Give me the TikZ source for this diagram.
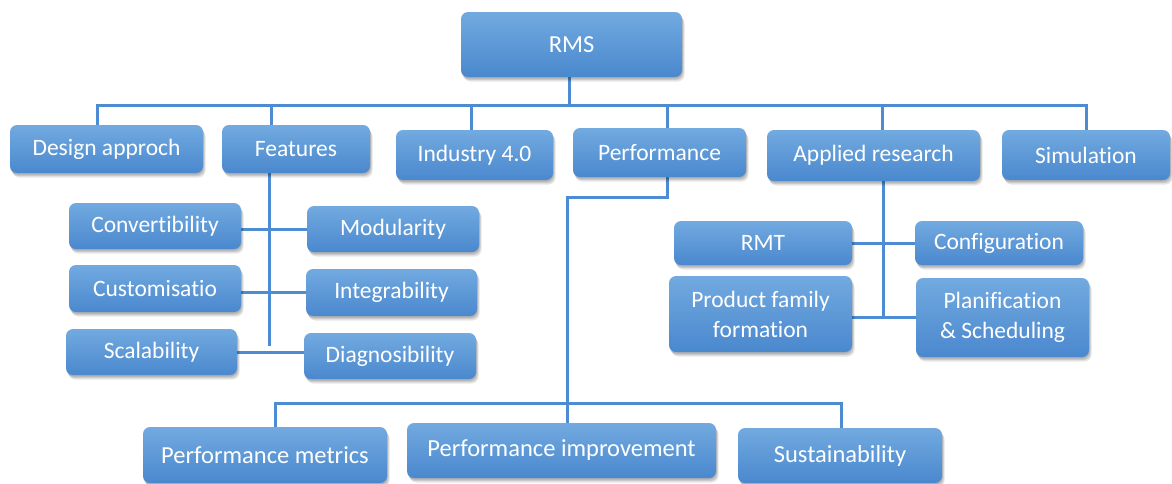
\documentclass[tikz,border=0pt]{standalone}
\usepackage{fontspec}
\setmainfont[Ligatures={NoCommon}]{Carlito}
\usetikzlibrary{shadows,calc}
\definecolor{boxtop}{HTML}{72AAE0}
\definecolor{boxbot}{HTML}{4A88CE}
\definecolor{linec}{HTML}{4D8CD2}
\pgfdeclarelayer{bg}
\pgfdeclarelayer{lines}
\pgfsetlayers{bg,lines,main}
\begin{document}
\begin{tikzpicture}[x=1pt,y=1pt,
  box/.style={rounded corners=7pt, top color=boxtop, bottom color=boxbot, draw=none,
    text=white, font=\fontsize{23.5}{30}\selectfont, align=center, inner sep=0pt,
    drop shadow={fill=black, opacity=0.12, shadow xshift=0.5pt, shadow yshift=-1.5pt},
    drop shadow={fill=black, opacity=0.12, shadow xshift=1.5pt, shadow yshift=-3pt},
    drop shadow={fill=black, opacity=0.10, shadow xshift=2.5pt, shadow yshift=-4.5pt}},
  bigbox/.style={box, font=\fontsize{24.5}{30}\selectfont},
  conn/.style={draw=linec, line width=3pt}]
\useasboundingbox (0,0) rectangle (1172,-483);
\begin{pgfonlayer}{bg}
\fill[white] (0,0) rectangle (1172,-483);
\end{pgfonlayer}
% top
\node[box, minimum width=221pt, minimum height=65pt, font=\fontsize{24.5}{30}\selectfont] (rms) at (571.5,-44.5) {RMS};
% level 1
\node[box, minimum width=193pt, minimum height=48pt] (da) at (106.5,-149) {Design approch};
\node[box, minimum width=148pt, minimum height=48pt] (feat) at (296,-149) {Features};
\node[box, minimum width=157pt, minimum height=50pt] (ind) at (474.5,-155) {Industry 4.0};
\node[box, minimum width=173pt, minimum height=49pt] (perf) at (659.5,-152.5) {Performance};
\node[box, minimum width=213pt, minimum height=51pt] (app) at (873.5,-155.5) {Applied research};
\node[box, minimum width=168pt, minimum height=50pt] (sim) at (1086,-155) {Simulation};
% features
\node[box, minimum width=172pt, minimum height=46pt] (conv) at (155,-226) {Convertibility};
\node[box, minimum width=172pt, minimum height=46pt] (mod) at (393,-229) {Modularity};
\node[box, minimum width=172pt, minimum height=47pt] (cust) at (155,-288.5) {Customisatio};
\node[box, minimum width=171pt, minimum height=47pt] (integ) at (391.5,-292.5) {Integrability};
\node[box, minimum width=171pt, minimum height=46pt] (scal) at (151.5,-352) {Scalability};
\node[box, minimum width=172pt, minimum height=46pt] (diag) at (390,-356) {Diagnosibility};
% applied research
\node[box, minimum width=178pt, minimum height=44pt] (rmt) at (763,-243) {RMT};
\node[box, minimum width=168pt, minimum height=44pt] (conf) at (999,-243) {Configuration};
\node[box, minimum width=183pt, minimum height=76pt] (pff) at (760.5,-314) {Product family\\formation};
\node[box, minimum width=173pt, minimum height=79pt] (plan) at (1002.5,-317.5) {Planification\\\& Scheduling};
% performance
\node[bigbox, minimum width=244pt, minimum height=56pt] (pmet) at (265,-455) {Performance metrics};
\node[bigbox, minimum width=309pt, minimum height=55pt] (pimp) at (561.5,-450.5) {Performance improvement};
\node[bigbox, minimum width=204pt, minimum height=55pt] (sus) at (840,-455.5) {Sustainability};

\begin{pgfonlayer}{lines}
% main bus
\draw[conn] ([xshift=-2.5pt]rms.south) -- ++(0,-28) coordinate (busmid);
\draw[conn] ([xshift=-9.5pt]da.north) |- (busmid) -| (sim.north);
\draw[conn] ([xshift=-25pt]feat.north) -- ([xshift=-25pt]feat.north |- busmid);
\draw[conn] ([xshift=-3.5pt]ind.north) -- ([xshift=-3.5pt]ind.north |- busmid);
\draw[conn] ([xshift=7.5pt]perf.north) -- ([xshift=7.5pt]perf.north |- busmid);
\draw[conn] ([xshift=8.5pt]app.north) -- ([xshift=8.5pt]app.north |- busmid);
% features tree
\coordinate (fend) at (269,-346);
\draw[conn] ([xshift=-27pt]feat.south) -- ([xshift=-27pt]feat.south |- fend);
\draw[conn] (conv.east |- mod.west) -- (mod.west);
\draw[conn] (cust.east |- integ.west) -- (integ.west);
\draw[conn] (scal.east) -- (scal.east -| diag.west);
% applied research tree
\draw[conn] ([xshift=9.5pt]app.south) -- ([xshift=9.5pt]app.south |- plan.west);
\draw[conn] (rmt.east) -- (conf.west);
\draw[conn] (pff.east |- plan.west) -- (plan.west);
% performance tree
\coordinate (pbus) at (567,-403);
\draw[conn] ([xshift=7.5pt]perf.south) -- ++(0,-20) -| ([xshift=5.5pt]pimp.north);
\draw[conn] ([xshift=10pt]pmet.north) |- (pbus) -| ([xshift=1pt]sus.north);
\end{pgfonlayer}
\end{tikzpicture}
\end{document}
